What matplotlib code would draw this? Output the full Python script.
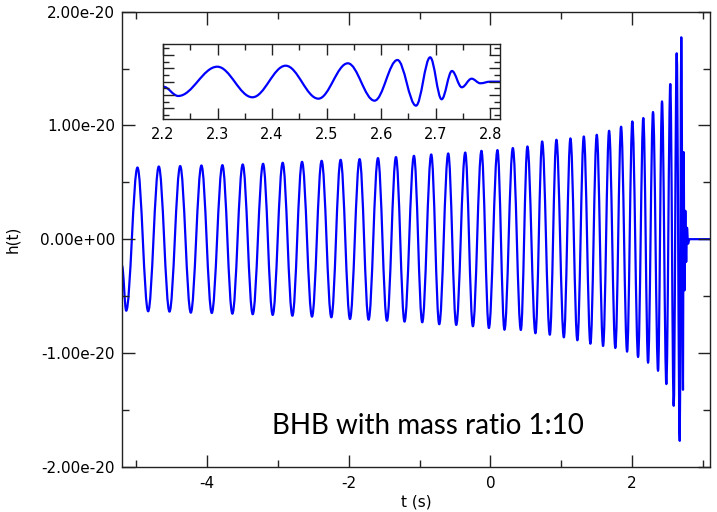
import numpy as np
import matplotlib
matplotlib.use("Agg")
import matplotlib.pyplot as plt
from matplotlib.path import Path
from matplotlib.patches import PathPatch
from matplotlib.ticker import FormatStrFormatter, MultipleLocator

plt.rcParams["axes.unicode_minus"] = False
plt.rcParams["font.family"] = ["DejaVu Sans"]

# ---- main waveform: extrema (t in s, h in 1e-20) ----
start_t = [-5.2]
start_h = [-0.235]

max_t = [-4.982, -4.681, -4.379, -4.079, -3.783, -3.496, -3.209, -2.932, -2.659,
         -2.382, -2.114, -1.846, -1.587, -1.333, -1.079, -0.835, -0.595, -0.355,
         -0.126, 0.100, 0.317, 0.523, 0.731, 0.932, 1.130, 1.319, 1.502, 1.676,
         1.845, 2.004, 2.159, 2.296, 2.423, 2.540, 2.630, 2.695]
max_h = [0.630, 0.639, 0.643, 0.648, 0.651, 0.657, 0.663, 0.672, 0.680,
         0.689, 0.698, 0.704, 0.713, 0.722, 0.733, 0.745, 0.754, 0.762,
         0.777, 0.783, 0.801, 0.815, 0.859, 0.874, 0.886, 0.903, 0.918, 0.953,
         0.989, 1.035, 1.065, 1.118, 1.211, 1.364, 1.634, 1.775]

min_t = [-5.141, -4.831, -4.530, -4.229, -3.933, -3.642, -3.355, -3.073, -2.795,
         -2.518, -2.245, -1.982, -1.719, -1.460, -1.212, -0.962, -0.722, -0.482,
         -0.247, -0.021, 0.199, 0.430, 0.636, 0.839, 1.037, 1.228, 1.412, 1.591,
         1.764, 1.930, 2.085, 2.226, 2.367, 2.484, 2.588, 2.673, 2.719]
min_h = [-0.629, -0.634, -0.637, -0.646, -0.649, -0.655, -0.660, -0.666, -0.673,
         -0.681, -0.687, -0.702, -0.708, -0.717, -0.725, -0.731, -0.748, -0.754,
         -0.766, -0.781, -0.796, -0.798, -0.827, -0.840, -0.863, -0.889, -0.919,
         -0.939, -0.957, -0.989, -1.036, -1.086, -1.157, -1.274, -1.465, -1.773, -1.324]

ring_t = [2.728, 2.740, 2.752, 2.764, 2.776, 2.790, 2.810, 3.100]
ring_h = [0.766, -0.45, 0.25, -0.20, 0.10, -0.04, 0.0, 0.0]

# ---- inset waveform extrema (t in s, arbitrary units) ----
in_t = [2.2006, 2.228, 2.2996, 2.364, 2.425, 2.485, 2.539, 2.588, 2.630, 2.664,
        2.690, 2.711, 2.730, 2.748, 2.766, 2.782, 2.800, 2.818]
in_h = [-0.375, -1.073, 1.125, -1.170, 1.200, -1.275, 1.380, -1.425, 1.628, -1.800,
        1.830, -1.320, 0.803, -0.420, 0.225, -0.12, 0.0, 0.0]

main_yticks = [-2e-20, -1e-20, 0.0, 1e-20, 2e-20]
main_xticks = [-4, -2, 0, 2]
inset_xticks = [2.2, 2.3, 2.4, 2.5, 2.6, 2.7, 2.8]

scale = 1e-20
K = 1 - 2 / np.pi  # control-handle fraction for extremum-to-extremum segments


def extrema_path(t, h, s=1.0):
    t = np.asarray(t, float)
    h = np.asarray(h, float) * s
    verts = [(t[0], h[0])]
    codes = [Path.MOVETO]
    for i in range(1, len(t)):
        d = t[i] - t[i - 1]
        verts += [(t[i - 1] + K * d, h[i - 1]), (t[i] - K * d, h[i]), (t[i], h[i])]
        codes += [Path.CURVE4] * 3
    return Path(verts, codes)


seq = sorted(zip(max_t + min_t, max_h + min_h))
main_t = start_t + [p[0] for p in seq] + ring_t
main_h = start_h + [p[1] for p in seq] + ring_h

fig = plt.figure(figsize=(7.17, 5.12), dpi=100)
ax = fig.add_axes([0.1702, 0.0885, 0.8200, 0.8887])
ax.add_patch(PathPatch(extrema_path(main_t, main_h, scale), fill=False,
                       edgecolor="#0000ff", linewidth=1.6, joinstyle="round"))
ax.set_xlim(-5.2, 3.1)
ax.set_ylim(-2e-20, 2e-20)
ax.set_xticks(main_xticks)
ax.set_yticks(main_yticks)
ax.xaxis.set_minor_locator(MultipleLocator(1))
ax.yaxis.set_minor_locator(MultipleLocator(0.5e-20))
ax.yaxis.set_major_formatter(FormatStrFormatter("%.2e"))
ax.tick_params(which="both", direction="in", top=True, right=True, width=1.0,
               labelsize=11, color="#222222")
ax.tick_params(which="major", length=9)
ax.tick_params(which="minor", length=5)
ax.tick_params(axis="x", pad=7)
ax.tick_params(axis="y", pad=5)
for sp in ax.spines.values():
    sp.set_linewidth(1.0)
    sp.set_color("#222222")
ax.set_xlabel("t (s)", fontsize=11, labelpad=2)
ax.set_ylabel("h(t)", fontsize=11, labelpad=14)
ax.text(0.2546, 0.0712, "BHB with mass ratio 1:10", transform=ax.transAxes,
        fontsize=20, family=["Lato", "DejaVu Sans"], va="baseline", ha="left")

# ---- inset ----
axi = fig.add_axes([0.2273, 0.7676, 0.4700, 0.1465])
axi.add_patch(PathPatch(extrema_path(in_t, in_h), fill=False,
                        edgecolor="#0000ff", linewidth=1.6, joinstyle="round"))
axi.set_xlim(2.2, 2.818)
axi.set_ylim(-2.8, 2.83)
axi.set_xticks(inset_xticks)
axi.xaxis.set_minor_locator(MultipleLocator(0.05))
axi.xaxis.set_major_formatter(FormatStrFormatter("%.1f"))
axi.yaxis.set_major_locator(MultipleLocator(1))
axi.yaxis.set_minor_locator(MultipleLocator(0.5))
axi.tick_params(which="both", direction="in", top=True, right=True, width=1.0,
                labelsize=10.5, labelleft=False, color="#222222")
axi.tick_params(which="major", length=8)
axi.tick_params(which="minor", length=4.5)
axi.tick_params(axis="x", pad=6)
for sp in axi.spines.values():
    sp.set_linewidth(1.0)
    sp.set_color("#222222")

fig.savefig("out.png", dpi=100)
